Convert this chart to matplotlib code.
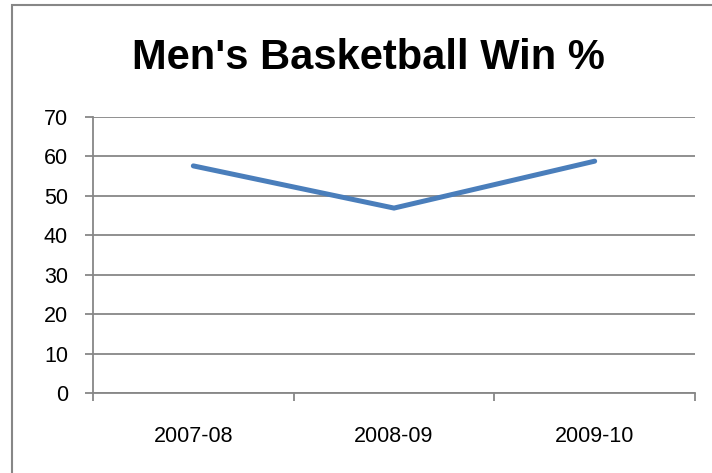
import matplotlib
matplotlib.use('Agg')
import matplotlib.pyplot as plt
from matplotlib.patches import Rectangle

seasons = ['2007-08', '2008-09', '2009-10']
win_pct = [57.6, 46.9, 58.8]
y_ticks = [0, 10, 20, 30, 40, 50, 60, 70]

grey = '#878787'
plt.rcParams['font.family'] = ['Liberation Sans', 'DejaVu Sans']

fig = plt.figure(figsize=(7.12, 4.73), dpi=100)
ax = fig.add_axes([93/712, 1 - 393/473, (695 - 93)/712, (393 - 117)/473])

x = list(range(len(seasons)))
ax.plot(x, win_pct, color='#4A7EBB', lw=3.6, solid_capstyle='round', solid_joinstyle='miter')

ax.set_xlim(-0.5, len(seasons) - 0.5)
ax.set_ylim(0, 70)
ax.set_yticks(y_ticks)
ax.yaxis.grid(True, color=grey, lw=1.3)
ax.set_axisbelow(True)

# category boundaries get the tick marks, labels sit in between
ax.set_xticks([i - 0.5 for i in range(len(seasons) + 1)])
ax.set_xticklabels([])
ax.set_xticks(x, minor=True)
ax.set_xticklabels(seasons, minor=True, fontsize=15.5)
ax.tick_params(axis='x', which='major', length=6, color=grey, width=1.3)
ax.tick_params(axis='x', which='minor', length=0, pad=24)
ax.tick_params(axis='y', length=6, color=grey, width=1.3, labelsize=15.5, pad=12)

for side in ['top', 'right']:
    ax.spines[side].set_visible(False)
for side in ['left', 'bottom']:
    ax.spines[side].set_color(grey)
    ax.spines[side].set_linewidth(1.3)

fig.text(368/712, 1 - 58/473, "Men's Basketball Win %", ha='center', va='center',
         fontsize=30, fontweight='bold')

# chart-area border, right and bottom run off the image
fig.patches.append(Rectangle((12/712, -0.05), 1.2, 1 - 5/473 + 0.05,
                             transform=fig.transFigure, fill=False,
                             edgecolor=grey, lw=1.5))

fig.savefig('out.png', dpi=100)
